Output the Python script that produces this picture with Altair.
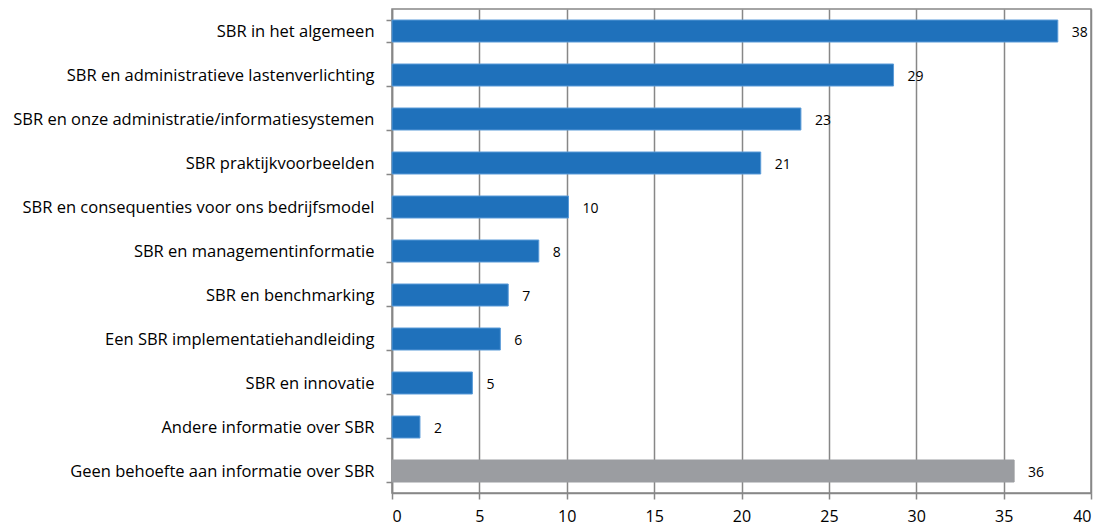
import altair as alt
import pandas as pd

categories = [
    "SBR in het algemeen",
    "SBR en administratieve lastenverlichting",
    "SBR en onze administratie/informatiesystemen",
    "SBR praktijkvoorbeelden",
    "SBR en consequenties voor ons bedrijfsmodel",
    "SBR en managementinformatie",
    "SBR en benchmarking",
    "Een SBR implementatiehandleiding",
    "SBR en innovatie",
    "Andere informatie over SBR",
    "Geen behoefte aan informatie over SBR",
]
values = [38.1, 28.7, 23.4, 21.1, 10.1, 8.4, 6.65, 6.2, 4.6, 1.6, 35.6]
value_labels = ["38", "29", "23", "21", "10", "8", "7", "6", "5", "2", "36"]
groups = ["info"] * 10 + ["geen"]
x_ticks = [0, 5, 10, 15, 20, 25, 30, 35, 40]

df = pd.DataFrame({"cat": categories, "val": values, "lab": value_labels, "grp": groups})

FONT = "Open Sans"
GRID = "#878787"

y = alt.Y(
    "cat:N",
    sort=categories,
    title=None,
    scale=alt.Scale(paddingInner=0.5, paddingOuter=0.25),
    axis=alt.Axis(
        tickBand="extent",
        ticks=True,
        tickSize=6,
        tickColor=GRID,
        tickWidth=1.5,
        domainColor=GRID,
        domainWidth=1.5,
        labelFont=FONT,
        labelFontSize=16.5,
        labelColor="#000000",
        labelPadding=12,
        labelLimit=420,
        grid=False,
    ),
)

x = alt.X(
    "val:Q",
    title=None,
    scale=alt.Scale(domain=[0, 40], nice=False),
    axis=alt.Axis(
        values=x_ticks,
        grid=True,
        gridColor=GRID,
        gridWidth=1.5,
        tickSize=6,
        tickColor=GRID,
        tickWidth=1.5,
        domainColor=GRID,
        domainWidth=1.5,
        labelFont=FONT,
        labelFontSize=16,
        labelColor="#000000",
        labelPadding=9,
    ),
)

bars = alt.Chart(df).mark_bar(strokeWidth=1).encode(
    x=x,
    y=y,
    color=alt.Color(
        "grp:N",
        scale=alt.Scale(domain=["info", "geen"], range=["#1f71bb", "#9b9da1"]),
        legend=None,
    ),
    stroke=alt.Stroke(
        "grp:N",
        scale=alt.Scale(domain=["info", "geen"], range=["#5b9bd8", "#9b9da1"]),
        legend=None,
    ),
)

text = alt.Chart(df).mark_text(
    align="left", baseline="middle", dx=14, dy=2, font=FONT, fontSize=14, color="#000000"
).encode(
    x=alt.X("val:Q"),
    y=alt.Y("cat:N", sort=categories),
    text="lab:N",
)

chart = (
    alt.layer(bars, text)
    .properties(
        width=699,
        height=484,
        autosize=alt.AutoSizeParams(type="none"),
        padding={"left": 392, "top": 9, "right": 24, "bottom": 36},
        background="#ffffff",
    )
    .configure_view(stroke=GRID, strokeWidth=1.5)
)

chart.save("out.html", embed_options={"renderer": "svg", "actions": False})
